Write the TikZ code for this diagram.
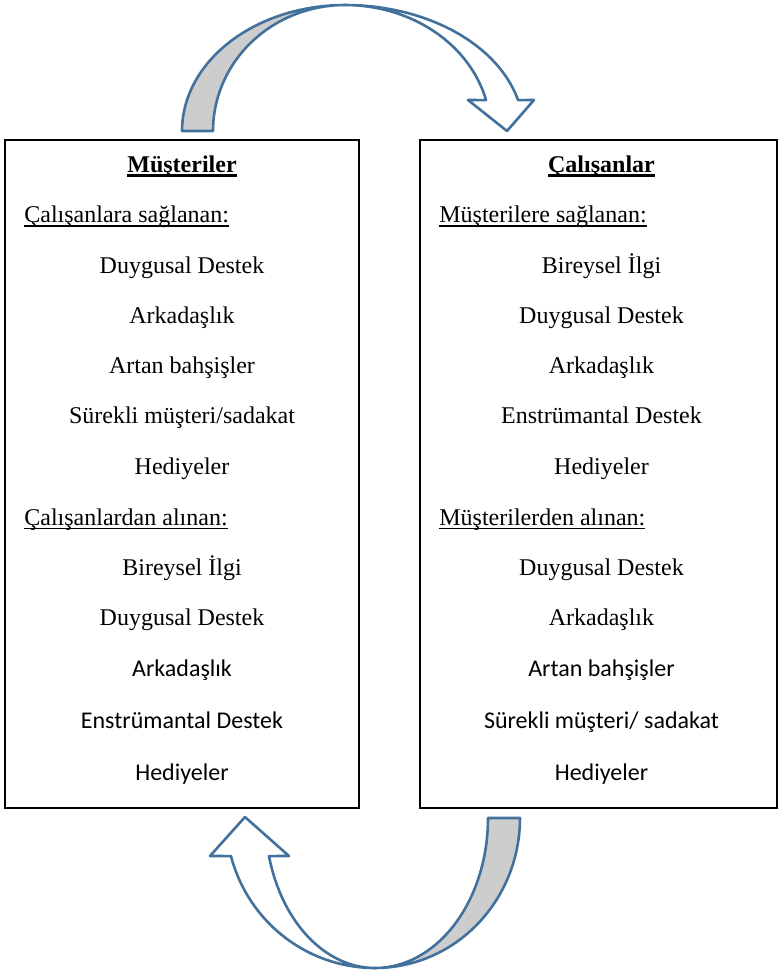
\documentclass[tikz,border=0pt]{standalone}
\usepackage{fontspec}
\setmainfont{Liberation Serif}
\newfontfamily\calibri{Carlito}
\usetikzlibrary{positioning}
\definecolor{arrowline}{RGB}{65,113,156}
\definecolor{arrowshade}{RGB}{205,205,205}
\newsavebox\ulbox
\newcommand{\undertext}[2][0.6pt]{\sbox\ulbox{#2}\rlap{\rule[-2pt]{\wd\ulbox}{#1}}\usebox\ulbox}

\begin{document}
\begin{tikzpicture}[
    x=0.5pt, y=-0.5pt,
    every node/.style={font=\fontsize{12}{14}\selectfont, inner sep=0pt},
    panel/.style={draw=black, line width=1pt},
    heading/.style={anchor=base},
    subhead/.style={anchor=base west},
    itemtxt/.style={anchor=base},
    itemcal/.style={anchor=base, font=\fontsize{12}{14}\selectfont\calibri},
    bandline/.style={draw=arrowline, line width=1.3pt, line join=round},
]
\useasboundingbox (0,0) rectangle (778,976);
% the two panels
\coordinate (lnw) at (5,140);
\coordinate (lse) at (359,808);
\coordinate (rnw) at (420,140);
\coordinate (rse) at (777,808);
\draw[panel] (lnw) rectangle (lse);
\draw[panel] (rnw) rectangle (rse);
% left panel: customers
\node[heading] (mh) at (182,172.5) {\undertext[1.1pt]{\textbf{Müşteriler}}};
\node[subhead] (ms1) at (24,222.5) {\undertext{Çalışanlara sağlanan:}};
\node[itemtxt] (m1) at (182,273) {Duygusal Destek};
\node[itemtxt] (m2) at (182,323) {Arkadaşlık};
\node[itemtxt] (m3) at (182,373.5) {Artan bahşişler};
\node[itemtxt] (m4) at (182,423.5) {Sürekli müşteri/sadakat};
\node[itemtxt] (m5) at (182,474) {Hediyeler};
\node[subhead] (ms2) at (24,525) {\undertext{Çalışanlardan alınan:}};
\node[itemtxt] (m6) at (182,575) {Bireysel İlgi};
\node[itemtxt] (m7) at (182,625) {Duygusal Destek};
\node[itemcal] (m8) at (182,676) {Arkadaşlık};
\node[itemcal] (m9) at (182,728) {Enstrümantal Destek};
\node[itemcal] (m10) at (182,780) {Hediyeler};
% right panel: employees
\node[heading] (ch) at (601.5,172.5) {\undertext[1.1pt]{\textbf{Çalışanlar}}};
\node[subhead] (cs1) at (439,222.5) {\undertext{Müşterilere sağlanan:}};
\node[itemtxt] (c1) at (601.5,273) {Bireysel İlgi};
\node[itemtxt] (c2) at (601.5,323) {Duygusal Destek};
\node[itemtxt] (c3) at (601.5,373.5) {Arkadaşlık};
\node[itemtxt] (c4) at (601.5,423.5) {Enstrümantal Destek};
\node[itemtxt] (c5) at (601.5,474) {Hediyeler};
\node[subhead] (cs2) at (439,525) {\undertext{Müşterilerden alınan:}};
\node[itemtxt] (c6) at (601.5,575) {Duygusal Destek};
\node[itemtxt] (c7) at (601.5,625) {Arkadaşlık};
\node[itemcal] (c8) at (601.5,676) {Artan bahşişler};
\node[itemcal] (c9) at (601.5,728) {Sürekli müşteri/ sadakat};
\node[itemcal] (c10) at (601.5,780) {Hediyeler};
% top curved arrow: shaded back, then white front with head
\filldraw[bandline, fill=arrowshade] plot[domain=180:270, samples=40] ({345+163*cos(\x)}, {131+126*sin(\x)})
    -- plot[domain=270:180, samples=40] ({345+132*cos(\x)}, {131+126*sin(\x)}) -- cycle;
\filldraw[bandline, fill=white] plot[domain=270:345.8, samples=40] ({345+178.5*cos(\x)}, {131+126*sin(\x)})
    -- (534,100) -- (507,131) -- (468,100)
    -- plot[domain=345.8:270, samples=40] ({345+145.5*cos(\x)}, {131+126*sin(\x)}) -- cycle;
% bottom curved arrow, turned round
\filldraw[bandline, fill=arrowshade] plot[domain=0:90, samples=40] ({375+145*cos(\x)}, {818+150*sin(\x)})
    -- plot[domain=90:0, samples=40] ({375+113*cos(\x)}, {818+150*sin(\x)}) -- cycle;
\filldraw[bandline, fill=white] plot[domain=90:165.3, samples=40] ({375+148.9*cos(\x)}, {818+150*sin(\x)})
    -- (210,856) -- (245,817) -- (289,856)
    -- plot[domain=165.3:90, samples=40] ({375+109.6*cos(\x)}, {818+150*sin(\x)}) -- cycle;
\end{tikzpicture}
\end{document}
